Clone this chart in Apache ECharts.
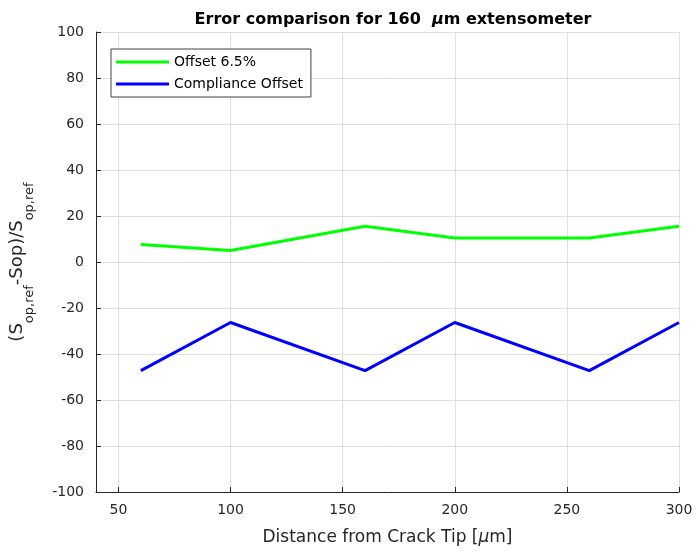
<!DOCTYPE html>
<html>
<head>
<meta charset="utf-8">
<script src="https://cdn.jsdelivr.net/npm/echarts@6/dist/echarts.min.js"></script>
<style>
  html, body { margin: 0; padding: 0; background: #fff; }
  #chart { width: 698px; height: 552px; }
</style>
</head>
<body>
<div id="chart"></div>
<script>
// Distance from crack tip [µm]
const distances = [60, 100, 160, 200, 260, 300];
// Relative error (%) for each method
const offset65 = [7.6, 5.0, 15.5, 10.4, 10.4, 15.5];
const complianceOffset = [-47.2, -26.3, -47.2, -26.3, -47.2, -26.3];
// Axis tick values
const xTicks = [50, 100, 150, 200, 250, 300];

const FONT = '"DejaVu Sans", Verdana, sans-serif';
const TXT = '#262626';

const chart = echarts.init(document.getElementById('chart'), null, { renderer: 'canvas' });

const pairs = (ys) => distances.map((x, i) => [x, ys[i]]);

chart.setOption({
  animation: false,
  backgroundColor: '#ffffff',
  textStyle: { fontFamily: FONT },
  title: {
    text: '{b|Error comparison for 160  }{mu|μ}{b|m extensometer}',
    left: 388,
    textAlign: 'center',
    top: 7,
    textStyle: {
      rich: {
        b: { fontFamily: FONT, fontSize: 16, fontWeight: 'bold', color: '#000' },
        mu: { fontFamily: FONT, fontSize: 16, fontWeight: 'bold', fontStyle: 'italic', color: '#000' }
      }
    }
  },
  legend: {
    orient: 'vertical',
    left: 111,
    top: 49,
    itemWidth: 53,
    itemHeight: 3,
    itemGap: 8,
    padding: [6, 8, 6, 5],
    icon: 'rect',
    borderColor: '#404040',
    borderWidth: 1,
    backgroundColor: '#fff',
    textStyle: { fontFamily: FONT, fontSize: 14, color: '#000', padding: [0, 0, 0, 0] },
    data: ['Offset 6.5%', 'Compliance Offset']
  },
  grid: { left: 96, right: 19, top: 32, bottom: 60, containLabel: false },
  xAxis: {
    type: 'value',
    min: 40,
    max: 300,
    name: '{t|Distance from Crack Tip [}{mu|μ}{t|m]}',
    nameLocation: 'middle',
    nameGap: 37,
    nameTextStyle: {
      rich: {
        t: { fontFamily: FONT, fontSize: 17, color: TXT },
        mu: { fontFamily: FONT, fontSize: 17, fontStyle: 'italic', color: TXT }
      }
    },
    axisLine: { show: true, onZero: false, lineStyle: { color: '#262626', width: 1 } },
    axisTick: { show: true, inside: true, length: 5, customValues: xTicks, lineStyle: { color: '#262626' } },
    axisLabel: { customValues: xTicks, fontFamily: FONT, fontSize: 14, color: TXT, margin: 11 },
    splitLine: { show: true, lineStyle: { color: '#dfdfdf', width: 1 } }
  },
  yAxis: {
    type: 'value',
    min: -100,
    max: 100,
    interval: 20,
    name: '{t|(S}{s|op,ref}{t|-Sop)/S}{s|op,ref}',
    nameLocation: 'middle',
    nameGap: 60,
    nameTextStyle: {
      rich: {
        t: { fontFamily: FONT, fontSize: 18, color: TXT, lineHeight: 28, verticalAlign: 'top' },
        s: { fontFamily: FONT, fontSize: 13, color: TXT, lineHeight: 28, verticalAlign: 'bottom', padding: [12, 0, 0, 0] }
      }
    },
    axisLine: { show: true, onZero: false, lineStyle: { color: '#262626', width: 1 } },
    axisTick: { show: true, inside: true, length: 5, lineStyle: { color: '#262626' } },
    axisLabel: { fontFamily: FONT, fontSize: 14, color: TXT, margin: 12 },
    splitLine: { show: true, lineStyle: { color: '#dfdfdf', width: 1 } }
  },
  series: [
    {
      name: 'Offset 6.5%',
      type: 'line',
      data: pairs(offset65),
      showSymbol: false,
      symbol: 'none',
      color: '#00ff00',
      lineStyle: { color: '#00ff00', width: 3 }
    },
    {
      name: 'Compliance Offset',
      type: 'line',
      data: pairs(complianceOffset),
      showSymbol: false,
      symbol: 'none',
      color: '#0000ff',
      lineStyle: { color: '#0000ff', width: 3 }
    }
  ]
});
</script>
</body>
</html>
